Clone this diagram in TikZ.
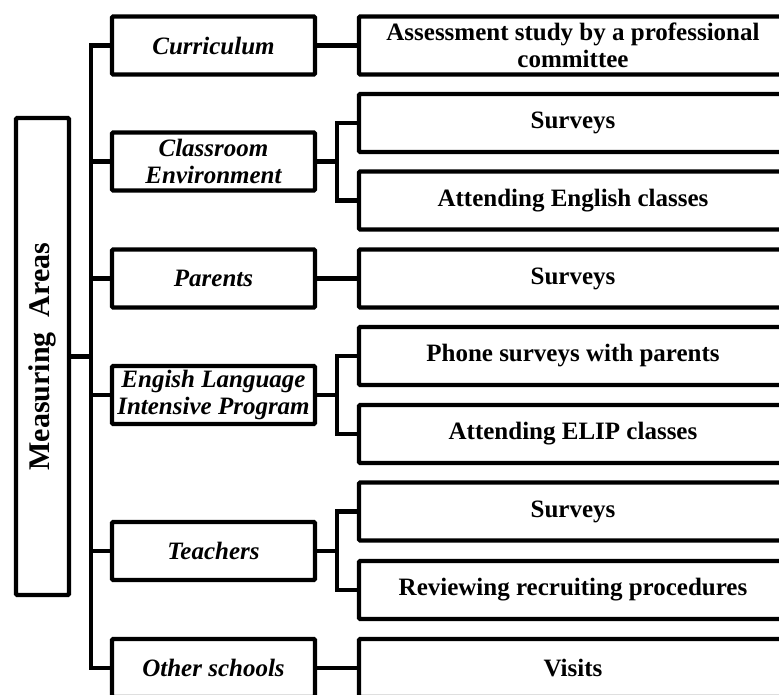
\documentclass[tikz,border=0pt]{standalone}
\usepackage{fontspec}
\setmainfont{Liberation Serif}
\usepackage{graphicx}
\begin{document}
\begin{tikzpicture}[x=1pt,y=-1pt,
  box/.style={draw=black, line width=4.2pt, rounded corners=1pt, fill=white, inner sep=1pt},
  catbox/.style={box, minimum width=203pt, minimum height=58pt, align=center,
     font=\bfseries\itshape\fontsize{25}{27.5}\selectfont},
  itembox/.style={box, minimum width=428pt, minimum height=58pt, align=center,
     font=\bfseries\fontsize{25}{27.5}\selectfont},
  link/.style={line width=4.6pt, line join=miter}]
\useasboundingbox (0,0) rectangle (779,695);
\clip (0,0) rectangle (779,695);

% root
\node[box, minimum width=53pt, minimum height=477pt,
      font=\bfseries\fontsize{30}{34}\selectfont] (main) at (42.5,356.5)
      {\rotatebox{90}{Measuring~~Areas}};

% categories
\node[catbox] (cur) at (213.5,45.5) {Curriculum};
\node[catbox] (cls) at (213.5,161.5) {Classroom\\Environment};
\node[catbox] (par) at (213.5,278.5) {Parents};
\node[catbox] (eng) at (213.5,395) {Engish Language\\Intensive Program};
\node[catbox] (tea) at (213.5,551) {Teachers};
\node[catbox] (oth) at (213.5,668) {Other schools};

% items
\node[itembox] (ass) at (573,45.5) {Assessment study by a professional\\committee};
\node[itembox] (sv1) at (573,123) {Surveys};
\node[itembox] (aec) at (573,200.5) {Attending English classes};
\node[itembox] (sv2) at (573,278.5) {Surveys};
\node[itembox] (phs) at (573,356) {Phone surveys with parents};
\node[itembox] (ael) at (573,434) {Attending ELIP classes};
\node[itembox] (sv3) at (573,511.5) {Surveys};
\node[itembox] (rev) at (573,590) {Reviewing recruiting procedures};
\node[itembox] (vis) at (573,668) {Visits};

% spine
\coordinate (sp) at (91,0);
\coordinate (fk) at (337,0);
\draw[link] (main.east) -- (main.east -| sp);
\draw[link] (cur.west) -- (cur.west -| sp) -- (oth.west -| sp) -- (oth.west);
\foreach \n in {cls,par,eng,tea} \draw[link] (\n.west) -- (\n.west -| sp);

% single links
\draw[link] (cur.east) -- (ass.west);
\draw[link] (par.east) -- (sv2.west);
\draw[link] (oth.east) -- (vis.west);

% forks
\draw[link] (cls.east) -- (cls.east -| fk);
\draw[link] (sv1.west) -- (sv1.west -| fk) -- (aec.west -| fk) -- (aec.west);
\draw[link] (eng.east) -- (eng.east -| fk);
\draw[link] (phs.west) -- (phs.west -| fk) -- (ael.west -| fk) -- (ael.west);
\draw[link] (tea.east) -- (tea.east -| fk);
\draw[link] (sv3.west) -- (sv3.west -| fk) -- (rev.west -| fk) -- (rev.west);
\end{tikzpicture}
\end{document}
